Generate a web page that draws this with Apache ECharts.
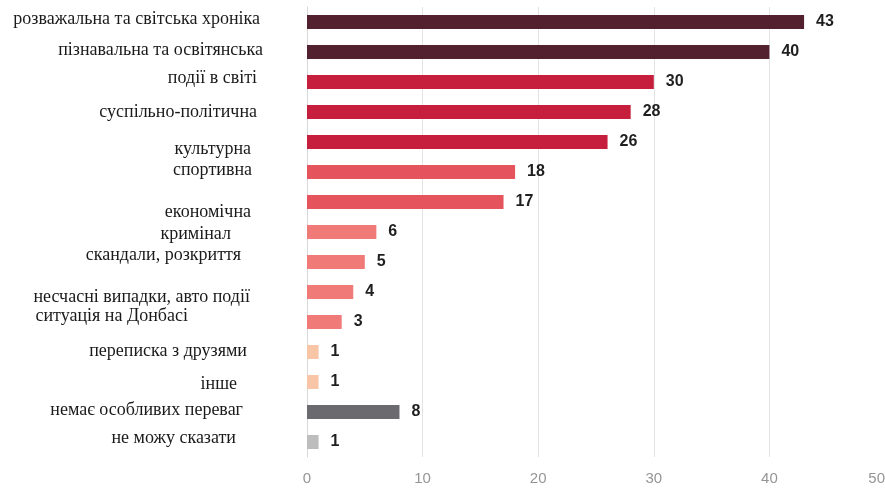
<!DOCTYPE html>
<html><head><meta charset="utf-8">
<script src="https://cdn.jsdelivr.net/npm/echarts@6/dist/echarts.min.js"></script>
<style>html,body{margin:0;padding:0;background:#fff}#c{width:885px;height:492px}</style>
</head><body><div id="c"></div>
<script>
const categories = [
  'розважальна та світська хроніка',
  'пізнавальна та освітянська',
  'події в світі',
  'суспільно-політична',
  'культурна',
  'спортивна',
  'економічна',
  'кримінал',
  'скандали, розкриття',
  'несчасні випадки, авто події',
  'ситуація на Донбасі',
  'переписка з друзями',
  'інше',
  'немає особливих переваг',
  'не можу сказати'
];
const values = [43, 40, 30, 28, 26, 18, 17, 6, 5, 4, 3, 1, 1, 8, 1];
const xTicks = [0, 10, 20, 30, 40, 50];

// styling (not data)
const barColors = ['#52202f','#52202f','#c51f3d','#c51f3d','#c51f3d','#e5535c','#e5535c',
  '#f07a78','#f07a78','#f07a78','#f07a78','#f8c6a6','#f8c6a6','#6b6a6e','#bdbdbd'];
const labelDy = [-3,-2,-4,0,7,-2,10,2,-7,5,-6,-1,2,-2,-4];
const labelDx = [3,0,6,6,12,11,12,32,22,13,75,16,26,20,27];

const rich = {};
categories.forEach((c, i) => {
  const dy = labelDy[i];
  rich['s' + i] = {
    fontFamily: 'Liberation Serif', fontSize: 18, color: '#1a1a1a',
    padding: [dy > 0 ? 2 * dy : 0, labelDx[i], dy < 0 ? -2 * dy : 0, 0]
  };
});

const chart = echarts.init(document.getElementById('c'));
chart.setOption({
  animation: false,
  grid: { left: 307, right: 0, top: 7, bottom: 35, containLabel: false, outerBoundsMode: 'none' },
  xAxis: {
    type: 'value', min: xTicks[0], max: xTicks[xTicks.length - 1], interval: 10,
    axisLine: { show: false }, axisTick: { show: false },
    splitLine: { lineStyle: { color: '#e3e3e3', width: 1 } },
    axisLabel: { color: '#959595', fontFamily: 'Liberation Sans', fontSize: 15, margin: 14,
      alignMaxLabel: 'right' }
  },
  yAxis: {
    type: 'category', data: categories, inverse: true,
    axisLine: { show: true, lineStyle: { color: '#d8d8d8' } },
    axisTick: { show: false },
    axisLabel: {
      margin: 44, align: 'right',
      formatter: (v, i) => '{s' + i + '|' + v + '}',
      rich: rich
    }
  },
  series: [{
    type: 'bar', data: values.map((v, i) => ({ value: v, itemStyle: { color: barColors[i] } })),
    barWidth: 14,
    label: {
      show: true, position: 'right', distance: 12,
      fontFamily: 'Liberation Sans', fontWeight: 'bold', fontSize: 16, color: '#1f1f1f'
    }
  }]
});
</script></body></html>
